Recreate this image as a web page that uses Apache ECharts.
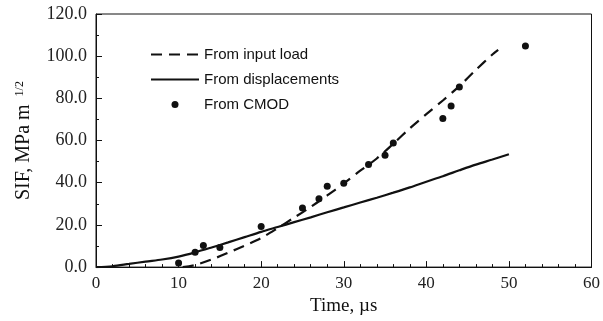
<!DOCTYPE html>
<html>
<head>
<meta charset="utf-8">
<script src="https://cdn.jsdelivr.net/npm/echarts@6/dist/echarts.min.js"></script>
<style>
html,body{margin:0;padding:0;background:#fff;}
#chart{width:603px;height:321px;}
</style>
</head>
<body>
<div id="chart"></div>
<script>
// From input load (dashed)
const inputLoadX = [10.5, 12, 14, 16, 18, 20, 22, 24, 26, 28, 30, 32, 34, 36, 38, 40, 42, 44, 46, 48, 48.7];
const inputLoadY = [0, 1.0, 3.6, 6.8, 10.2, 13.8, 18.5, 23.5, 28.5, 34.0, 39.6, 45.7, 51.5, 58.5, 65.8, 72.5, 79.0, 85.8, 93.5, 100.8, 103.0];
// From displacements (solid)
const dispX = [0, 2, 4, 6, 8, 10, 12, 14, 16, 18, 20, 22, 24, 26, 28, 30, 32, 34, 36, 38, 40, 42, 44, 46, 48, 50];
const dispY = [0, 0.4, 1.5, 2.6, 3.6, 5.0, 7.0, 9.3, 11.7, 14.2, 16.7, 19.0, 21.3, 23.6, 26.0, 28.3, 30.6, 32.9, 35.3, 37.8, 40.5, 43.1, 45.9, 48.6, 51.0, 53.5];
// From CMOD (dots)
const cmodX = [10, 12, 13, 15, 20, 25, 27, 28, 30, 33, 35, 36, 42, 43, 44, 52];
const cmodY = [2.0, 7.0, 10.3, 9.3, 19.3, 28.0, 32.4, 38.3, 39.7, 48.7, 53.0, 58.8, 70.4, 76.4, 85.4, 104.8];

const seriesNames = ['From input load', 'From displacements', 'From CMOD'];
const xAxisName = 'Time, \u00b5s';
const yAxisNameMain = 'SIF, MPa m';
const yAxisNameSup = '1/2';

const zip = (xs, ys) => xs.map((x, i) => [x, ys[i]]);
const ink = '#111';
const serif = 'Liberation Serif';
const clear = 'rgba(0,0,0,0)';

const chart = echarts.init(document.getElementById('chart'), null, {renderer: 'canvas'});
chart.setOption({
  animation: false,
  backgroundColor: '#fff',
  grid: {left: 96, right: 10, top: 14, bottom: 44, show: true, borderColor: ink, borderWidth: 1, backgroundColor: 'transparent'},
  legend: {
    orient: 'vertical', left: 145, top: 42,
    itemWidth: 48, itemHeight: 7, itemGap: 10,
    textStyle: {fontFamily: 'Liberation Sans', fontSize: 15, color: ink},
    data: [
      {name: seriesNames[0], itemStyle: {color: clear, borderColor: clear}},
      {name: seriesNames[1], itemStyle: {color: clear, borderColor: clear}},
      {name: seriesNames[2], icon: 'circle', itemStyle: {color: ink, opacity: 1}}
    ]
  },
  xAxis: {
    type: 'value', min: 0, max: 60, interval: 10,
    name: xAxisName, nameLocation: 'middle', nameGap: 22,
    nameTextStyle: {fontFamily: serif, fontSize: 19, color: ink},
    axisLine: {lineStyle: {color: ink, width: 1}},
    axisTick: {inside: true, length: 6, lineStyle: {color: ink}},
    minorTick: {show: true, splitNumber: 5, length: 3, lineStyle: {color: ink}},
    axisLabel: {fontFamily: serif, fontSize: 17, color: '#222', margin: 8},
    splitLine: {show: false}
  },
  yAxis: {
    type: 'value', min: 0, max: 120, interval: 20,
    name: '{a|' + yAxisNameMain + '}{b|' + yAxisNameSup + '}',
    nameLocation: 'middle', nameGap: 62,
    nameTextStyle: {
      rich: {
        a: {fontFamily: serif, fontSize: 20, color: ink},
        b: {fontFamily: serif, fontSize: 12, color: ink, verticalAlign: 'top', padding: [0,0,0,8]}
      }
    },
    axisLine: {show: true, lineStyle: {color: ink, width: 1}},
    axisTick: {show: true, inside: true, length: 6, lineStyle: {color: ink}},
    minorTick: {show: true, splitNumber: 2, length: 3, lineStyle: {color: ink}},
    axisLabel: {fontFamily: serif, fontSize: 18, color: '#222', margin: 9, formatter: v => v.toFixed(1)},
    splitLine: {show: false}
  },
  series: [
    {
      name: seriesNames[0], type: 'line', data: zip(inputLoadX, inputLoadY),
      showSymbol: false, symbol: 'none', smooth: 0.3,
      lineStyle: {color: ink, width: 2.2, type: [11, 7]},
      itemStyle: {color: ink}
    },
    {
      name: seriesNames[1], type: 'line', data: zip(dispX, dispY),
      showSymbol: false, symbol: 'none', smooth: 0.3,
      lineStyle: {color: ink, width: 2.2, type: 'solid'},
      itemStyle: {color: ink}
    },
    {
      name: seriesNames[2], type: 'scatter', data: zip(cmodX, cmodY),
      symbol: 'circle', symbolSize: 7,
      itemStyle: {color: ink, opacity: 1}
    }
  ]
});
</script>
</body>
</html>
